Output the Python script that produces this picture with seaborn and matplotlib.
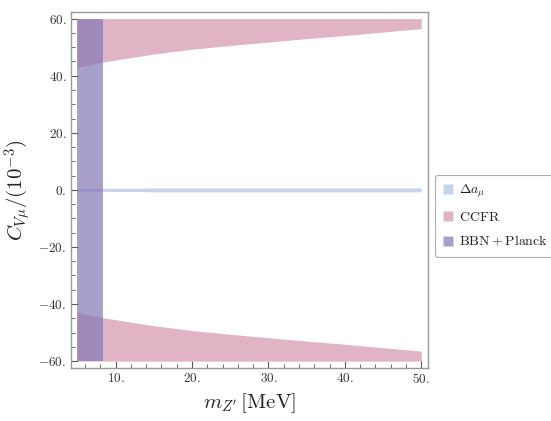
import numpy as np
import matplotlib
matplotlib.use("Agg")
import matplotlib.pyplot as plt
import seaborn as sns
from matplotlib.lines import Line2D
from matplotlib.ticker import FixedLocator, FixedFormatter, MultipleLocator

# ---- data ----
mass = [5, 8.3, 10, 15, 20, 25, 30, 35, 40, 45, 50]                        # MeV
ccfr_bound = [43.0, 44.8, 45.5, 47.6, 49.3, 50.6, 51.8, 53.0, 54.1, 55.3, 56.5]  # |C| lower edge of excluded region
ccfr_max = 60.0
amu_mass = [5, 13.8, 14.0, 50]
amu_low = [-0.55, -0.55, -0.7, -0.7]
amu_high = [0.55, 0.55, 0.7, 0.7]
bbn_mass = [5, 8.3]
bbn_low = -60.0
bbn_high = 60.0
labels = [r"$\Delta a_\mu$", r"$\mathrm{CCFR}$", r"$\mathrm{BBN} + \mathrm{Planck}$"]
xticks = [10, 20, 30, 40, 50]
xticklabels = ["10.", "20.", "30.", "40.", "50."]
yticks = [-60, -40, -20, 0, 20, 40, 60]
yticklabels = ["-60.", "-40.", "-20.", "0.", "20.", "40.", "60."]

sns.set_theme(style="white")
plt.rcParams["font.family"] = ["serif"]
plt.rcParams["font.serif"] = ["DejaVu Serif"]
plt.rcParams["mathtext.fontset"] = "cm"

c_amu = "#c8d5e9"
c_ccfr = "#e0b3c5"
c_bbn = "#8477b6"

fig = plt.figure(figsize=(5.51, 4.21), dpi=100)
ax = fig.add_axes([0.128, 0.126, 0.649, 0.846])

m = np.array(mass)
b = np.array(ccfr_bound)
ax.fill_between(m, b, ccfr_max, color=c_ccfr, lw=0)
ax.fill_between(m, -ccfr_max, -b, color=c_ccfr, lw=0)
ax.fill_between(amu_mass, amu_low, amu_high, color=c_amu, lw=0)
ax.fill_between(bbn_mass, bbn_low, bbn_high, color=c_bbn, alpha=0.7, lw=0)

ax.set_xlim(4.1, 50.9)
ax.set_ylim(-62.4, 62.4)

ax.xaxis.set_major_locator(FixedLocator(xticks))
ax.xaxis.set_major_formatter(FixedFormatter(["$" + t + "$" for t in xticklabels]))
ax.yaxis.set_major_locator(FixedLocator(yticks))
ax.yaxis.set_major_formatter(FixedFormatter(["$" + t + "$" for t in yticklabels]))
ax.xaxis.set_minor_locator(MultipleLocator(2))
ax.yaxis.set_minor_locator(MultipleLocator(5))
ax.tick_params(axis="both", which="major", direction="in", length=5, width=0.8,
               color="#555555", labelsize=9.5, labelcolor="#333333",
               bottom=True, left=True, top=False, right=False, pad=3)
ax.tick_params(axis="both", which="minor", direction="in", length=3, width=0.6,
               color="#555555", bottom=True, left=True, top=False, right=False)
for s in ax.spines.values():
    s.set_color("#9a9a9a")
    s.set_linewidth(1.0)

ax.set_xlabel(r"$m_{Z'}\,[\mathrm{MeV}]$", fontsize=15, color="#222222", labelpad=4)
ax.set_ylabel(r"$C_{V\mu}/(10^{-3})$", fontsize=15, color="#222222", labelpad=4)

handles = [Line2D([], [], marker="s", ls="none", markersize=7.5, markerfacecolor=c,
                  markeredgecolor="none")
           for c in (c_amu, c_ccfr, "#a8a0cc")]
leg = fig.legend(handles, labels, loc="upper left", bbox_to_anchor=(0.789, 0.585),
                 borderaxespad=0.0, frameon=True, fancybox=True, handlelength=0.7,
                 handletextpad=0.45, borderpad=0.6, labelspacing=0.7,
                 prop={"family": "serif", "size": 10})
leg.get_frame().set_edgecolor("#999999")
leg.get_frame().set_linewidth(0.8)
for t in leg.get_texts():
    t.set_color("#222222")

fig.savefig("out.png", dpi=100)
